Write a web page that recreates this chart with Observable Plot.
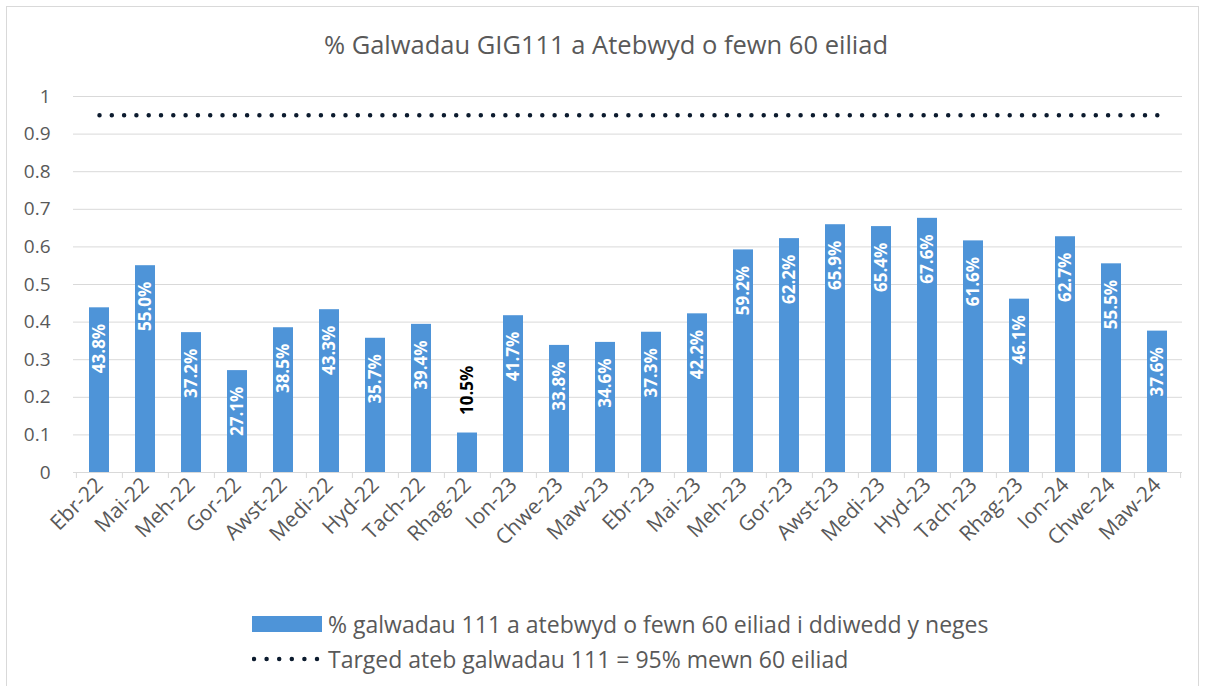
<!DOCTYPE html>
<html>
<head>
<meta charset="utf-8">
<script src="https://cdn.jsdelivr.net/npm/d3@7"></script>
<script src="https://cdn.jsdelivr.net/npm/@observablehq/plot@0.6"></script>
<style>
  body { margin: 0; background: #fff; font-family: "Open Sans", sans-serif; overflow: hidden; }
  #frame { position: absolute; left: 6px; top: 6px; width: 1193px; height: 700px; border: 1px solid #d9d9d9; box-sizing: border-box; }
  #title { position: absolute; left: 0; width: 1212px; top: 27px; text-align: center; font-size: 25.5px; color: #595959; white-space: nowrap; }
  #chart { position: absolute; left: 0; top: 0; }
  #chart g[aria-label="x-axis tick label"] { font-size: 21px !important; }
  .leg { position: absolute; left: 252px; font-size: 23px; color: #595959; display: flex; align-items: center; white-space: nowrap; }
  .sw { width: 70px; height: 16px; margin-right: 6px; flex: none; }
</style>
</head>
<body>
<div id="frame"></div>
<div id="chart"></div>
<div id="title">% Galwadau GIG111 a Atebwyd o fewn 60 eiliad</div>
<div class="leg" style="top:608px"><div class="sw" style="background:#4e94d8"></div><span>% galwadau 111 a atebwyd o fewn 60 eiliad i ddiwedd y neges</span></div>
<div class="leg" style="top:643px"><svg class="sw" width="70" height="16"><line x1="2" y1="8" x2="66" y2="8" stroke="#0c1b2e" stroke-width="4.5" stroke-linecap="round" stroke-dasharray="0 12.6"/></svg><span>Targed ateb galwadau 111 = 95% mewn 60 eiliad</span></div>
<script>
const months = ["Ebr-22","Mai-22","Meh-22","Gor-22","Awst-22","Medi-22","Hyd-22","Tach-22","Rhag-22","Ion-23","Chwe-23","Maw-23","Ebr-23","Mai-23","Meh-23","Gor-23","Awst-23","Medi-23","Hyd-23","Tach-23","Rhag-23","Ion-24","Chwe-24","Maw-24"];
const values = [0.438,0.550,0.372,0.271,0.385,0.433,0.357,0.394,0.105,0.417,0.338,0.346,0.373,0.422,0.592,0.622,0.659,0.654,0.676,0.616,0.461,0.627,0.555,0.376];
const target = 0.95;
const yTicks = [0,0.1,0.2,0.3,0.4,0.5,0.6,0.7,0.8,0.9,1];
const yTickLabels = ["0","0.1","0.2","0.3","0.4","0.5","0.6","0.7","0.8","0.9","1"];

const data = months.map((m, i) => ({month: m, value: values[i]}));
const W = 1205, H = 590, mT = 96, mB = 118, mL = 73, mR = 23;
const step = (W - mL - mR) / months.length;
const fmt = d3.format(".1%");
const blue = "#4e94d8";

const chart = Plot.plot({
  width: W, height: H,
  marginTop: mT, marginBottom: mB, marginLeft: mL, marginRight: mR,
  style: {fontFamily: "'Open Sans', sans-serif", color: "#595959", background: "transparent", overflow: "visible"},
  x: {domain: months, paddingInner: 0.57, paddingOuter: 0.285, label: null},
  y: {domain: [0, 1], label: null, axis: null},
  marks: [
    Plot.ruleY(yTicks, {stroke: "#d9d9d9", strokeWidth: 1}),
    Plot.ruleX(months, {x: d => d, dx: -step / 2, insetTop: H - mT - mB, insetBottom: -6, stroke: "#d9d9d9"}),
    Plot.ruleX([months[months.length - 1]], {x: d => d, dx: step / 2, insetTop: H - mT - mB, insetBottom: -6, stroke: "#d9d9d9"}),
    Plot.barY(data, {x: "month", y: "value", fill: blue}),
    Plot.text(data.filter(d => d.value >= 0.2), {x: "month", y: "value", text: d => fmt(d.value), rotate: -90, textAnchor: "end", lineAnchor: "middle", dy: 16, fill: "white", fontWeight: "bold", fontSize: 17}),
    Plot.text(data.filter(d => d.value < 0.2), {x: "month", y: "value", text: d => fmt(d.value), rotate: -90, textAnchor: "start", lineAnchor: "middle", dy: -18, fill: "black", fontWeight: "bold", fontSize: 17}),
    Plot.lineY(data, {x: "month", y: () => target, stroke: "#0c1b2e", strokeWidth: 4.5, strokeLinecap: "round", strokeDasharray: "0 12.3"}),
    Plot.text(yTicks, {y: d => d, text: (d, i) => yTickLabels[i], frameAnchor: "left", textAnchor: "end", lineAnchor: "middle", dx: -23, fontSize: 19, fill: "#595959"}),
    Plot.axisX({tickSize: 0, tickRotate: -45, tickPadding: 9, fontSize: 21, fill: "#595959"})
  ]
});
document.getElementById("chart").appendChild(chart);
</script>
</body>
</html>
